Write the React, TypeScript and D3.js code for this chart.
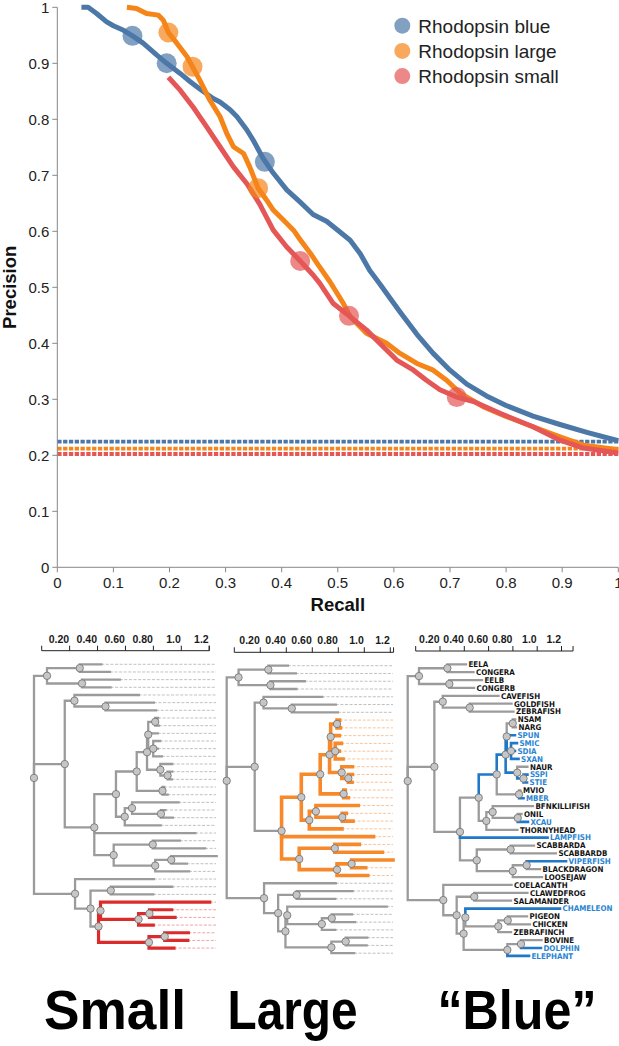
import React from 'react';
import * as d3 from 'd3';

// ---------- Precision / recall data ----------
const SERIES = ['Rhodopsin blue', 'Rhodopsin large', 'Rhodopsin small'];
const SERIES_COLORS = ['#4c78a8', '#f58518', '#e45756'];

const CURVE_BLUE: [number, number][] = [
  [0.043, 1.0], [0.055, 1.0], [0.07, 0.989], [0.088, 0.974], [0.1, 0.967], [0.118, 0.959],
  [0.134, 0.949], [0.153, 0.936], [0.177, 0.915], [0.195, 0.9], [0.219, 0.882], [0.237, 0.867],
  [0.254, 0.854], [0.278, 0.837], [0.29, 0.831], [0.308, 0.817], [0.32, 0.805], [0.338, 0.781],
  [0.349, 0.763], [0.367, 0.73], [0.385, 0.704], [0.409, 0.674], [0.433, 0.652], [0.456, 0.63],
  [0.48, 0.618], [0.5, 0.602], [0.522, 0.584], [0.54, 0.56], [0.557, 0.53], [0.575, 0.506],
  [0.59, 0.485], [0.611, 0.456], [0.641, 0.416], [0.67, 0.382], [0.7, 0.352], [0.73, 0.327],
  [0.765, 0.306], [0.8, 0.289], [0.848, 0.27], [0.896, 0.255], [0.944, 0.241], [1.0, 0.226],
];
const CURVE_LARGE: [number, number][] = [
  [0.124, 1.0], [0.141, 0.998], [0.159, 0.989], [0.18, 0.986], [0.189, 0.977], [0.198, 0.955],
  [0.213, 0.936], [0.231, 0.912], [0.241, 0.894], [0.254, 0.87], [0.272, 0.834], [0.29, 0.805],
  [0.302, 0.775], [0.314, 0.751], [0.332, 0.739], [0.343, 0.715], [0.358, 0.677], [0.373, 0.656],
  [0.385, 0.638], [0.403, 0.62], [0.421, 0.602], [0.433, 0.585], [0.451, 0.561], [0.465, 0.54],
  [0.486, 0.51], [0.51, 0.471], [0.522, 0.448], [0.551, 0.418], [0.587, 0.4], [0.611, 0.382],
  [0.641, 0.364], [0.67, 0.352], [0.694, 0.334], [0.718, 0.311], [0.759, 0.287], [0.801, 0.269],
  [0.848, 0.251], [0.896, 0.233], [0.938, 0.218], [1.0, 0.21],
];
const CURVE_SMALL: [number, number][] = [
  [0.198, 0.875], [0.219, 0.852], [0.242, 0.822], [0.266, 0.787], [0.29, 0.751], [0.314, 0.715],
  [0.338, 0.685], [0.361, 0.648], [0.385, 0.602], [0.409, 0.572], [0.433, 0.547], [0.456, 0.522],
  [0.468, 0.507], [0.492, 0.471], [0.52, 0.449], [0.551, 0.424], [0.581, 0.394], [0.605, 0.37],
  [0.635, 0.352], [0.658, 0.334], [0.682, 0.317], [0.712, 0.304], [0.742, 0.296], [0.789, 0.275],
  [0.848, 0.251], [0.896, 0.227], [0.938, 0.213], [1.0, 0.204],
];
const MARKERS_BLUE: [number, number][] = [[0.134, 0.949], [0.195, 0.9], [0.37, 0.724]];
const MARKERS_LARGE: [number, number][] = [[0.198, 0.955], [0.241, 0.894], [0.358, 0.677]];
const MARKERS_SMALL: [number, number][] = [[0.433, 0.547], [0.52, 0.449], [0.712, 0.304]];
const BASELINES = [0.2245, 0.212, 0.2023];

const PR_TICKS = [0, 0.1, 0.2, 0.3, 0.4, 0.5, 0.6, 0.7, 0.8, 0.9, 1];
const PR_TICK_LABELS = ['0', '0.1', '0.2', '0.3', '0.4', '0.5', '0.6', '0.7', '0.8', '0.9', '1'];

// ---------- Tree data (number after ':' = distance from root) ----------
const TREE = `(
 ((EELA:0.444,CONGERA:0.501)n_ec1:0.302,(EELB:0.566,CONGERB:0.505)n_ec2:0.317)n_eel:0.086,
 (
  (CAVEFISH:0.692,(GOLDFISH:0.791,ZEBRAFISH:0.806)n_gz:0.472)n_cave:0.267,
  (
   (
    (
     (
      ((NSAM:0.819,NARG:0.825)n_nn:0.80,SPUN:0.817,(SMIC:0.832,SDIA:0.817,SXAN:0.844)n_smic:0.787)n99:0.754,
      (NAUR:0.912,(SSPI:0.912,STIE:0.909)n_ss:0.882)n_naur:0.834
     )n98:0.746,
     (MVIO:0.859,MBER:0.882)n_mm:0.848
    )n89:0.678,
    ((BFNKILLIFISH:0.954,(ONIL:0.867,XCAU:0.916)n_ox:0.838)n_bf:0.647,THORNYHEAD:0.836)n79:0.599
   )n_big:0.541,
   LAMPFISH:1.065,
   (
    (SCABBARDA:0.962,SCABBARDB:1.129)n_sab:0.784,
    ((VIPERFISH:1.206,BLACKDRAGON:1.008)n_vb:0.906,LOOSEJAW:1.023)n_vbl:0.80
   )n_scab:0.526
  )n_lamp:0.398
 )n_fish:0.203,
 (
  COELACANTH:0.791,
  (
   (CLAWEDFROG:0.912,SALAMANDER:0.787)n_amph:0.507,
   (
    (CHAMELEON:1.16,((PIGEON:0.909,CHICKEN:0.931)n_pc:0.762,ZEBRAFINCH:0.787)n_birds:0.69)n_cb:0.439,
    ((BOVINE:1.019,DOLPHIN:1.015)n_bd:0.863,ELEPHANT:0.924)n_mam:0.759
   )n_t3:0.426
  )n_t1:0.373
 )n_tet:0.271
)root:0`;

const BLUE_EDGE_NODES = ['n89', 'n98', 'n99', 'n_naur', 'SPUN', 'n_smic', 'SMIC', 'SDIA', 'SXAN', 'n_ss', 'SSPI', 'STIE',
  'MBER', 'XCAU', 'LAMPFISH', 'VIPERFISH', 'CHAMELEON', 'DOLPHIN', 'ELEPHANT'];
const BLUE_LABELS = ['SPUN', 'SMIC', 'SDIA', 'SXAN', 'SSPI', 'STIE', 'MBER', 'XCAU', 'LAMPFISH', 'VIPERFISH',
  'CHAMELEON', 'DOLPHIN', 'ELEPHANT'];
const TREE_AXIS_TICKS = [0.2, 0.4, 0.6, 0.8, 1.0, 1.2];
const TREE_AXIS_LABELS = ['0.20', '0.40', '0.60', '0.80', '1.0', '1.2'];
const PANEL_TITLES = ['Small', 'Large', '\u201CBlue\u201D'];

type TNode = { name: string; dist: number; children?: TNode[] };

function parseTree(src: string): TNode {
  const s = src.replace(/\s+/g, '');
  let i = 0;
  const readUntil = (stops: string) => {
    let out = '';
    while (i < s.length && !stops.includes(s[i])) out += s[i++];
    return out;
  };
  const node = (): TNode => {
    let children: TNode[] | undefined;
    if (s[i] === '(') {
      i++;
      children = [node()];
      while (s[i] === ',') { i++; children.push(node()); }
      i++; // ')'
    }
    const name = readUntil(':,)');
    let dist = 0;
    if (s[i] === ':') { i++; dist = parseFloat(readUntil(',)')); }
    return { name, dist, children };
  };
  return node();
}

const FONT = "'Liberation Sans', Arial, Helvetica, sans-serif";
const GREY = '#9b9b9b';

type Panel = {
  rootX: number; ppu: number; y0: number; dy: number; leaderEnd: number;
  axisX0: number; axisPpu: number; axisMax: number; axisY: number;
  highlight?: string; hlColor?: string; hlLeader?: string; hlWidth?: number;
  labels?: boolean; titleX: number; titleW: number;
};

const PANELS: Panel[] = [
  { rootX: 34, ppu: 151.5, y0: 664.3, dy: 7.67, leaderEnd: 216, axisX0: 41.7, axisPpu: 139.6, axisMax: 1.2, axisY: 650.7,
    highlight: 'n_t3', hlColor: '#dc2b2b', hlLeader: '#f2a3a3', hlWidth: 3.2, titleX: 115, titleW: 142 },
  { rootX: 226.7, ppu: 137.9, y0: 665.7, dy: 7.77, leaderEnd: 393, axisX0: 234.3, axisPpu: 130, axisMax: 1.225, axisY: 652.3,
    highlight: 'n_lamp', hlColor: '#f7892b', hlLeader: '#f9c49a', hlWidth: 3.6, titleX: 292.5, titleW: 130 },
  { rootX: 407.7, ppu: 131.3, y0: 664.3, dy: 7.88, leaderEnd: 0, axisX0: 415.7, axisPpu: 121.5, axisMax: 1.295, axisY: 651,
    labels: true, titleX: 517, titleW: 159 },
];

function TreePanel({ p, k }: { p: Panel; k: number }) {
  const root = d3.hierarchy<TNode>(parseTree(TREE), (d) => d.children);
  const leaves = root.leaves();
  const yi = new Map<any, number>();
  leaves.forEach((l, i) => yi.set(l, i));
  root.eachAfter((n) => {
    if (n.children) yi.set(n, d3.mean(n.children, (c) => yi.get(c)!)!);
  });
  const xs = d3.scaleLinear().domain([0, 1]).range([p.rootX, p.rootX + p.ppu]);
  const ys = d3.scaleLinear().domain([0, 1]).range([p.y0, p.y0 + p.dy]);
  const X = (n: any) => xs(n.data.dist);
  const Y = (n: any) => ys(yi.get(n)!);

  const hl = new Set<any>();
  if (p.highlight) {
    const h = root.descendants().find((n) => n.data.name === p.highlight);
    if (h) h.descendants().forEach((n) => { if (n !== h) hl.add(n); });
  }
  const blueSet = new Set(BLUE_EDGE_NODES);
  const blueLab = new Set(BLUE_LABELS);
  const isColored = (n: any) => (p.labels ? blueSet.has(n.data.name) : hl.has(n));
  const colColor = p.labels ? '#1f78c8' : p.hlColor!;
  const colWidth = p.labels ? 2.6 : p.hlWidth!;

  const nonRoot = root.descendants().filter((n) => n.parent);
  const edges = [...nonRoot.filter((n) => !isColored(n)), ...nonRoot.filter((n) => isColored(n))];

  const ax = d3.scaleLinear().domain([0, p.axisMax]).range([p.axisX0, p.axisX0 + p.axisMax * p.axisPpu]);

  return (
    <g>
      {/* axis */}
      <line x1={ax(0)} x2={ax(p.axisMax)} y1={p.axisY} y2={p.axisY} stroke="#222" strokeWidth={1} />
      {[0, ...TREE_AXIS_TICKS, p.axisMax].map((t, i) => (
        <line key={'t' + i} x1={ax(t)} x2={ax(t)} y1={p.axisY} y2={p.axisY - 5} stroke="#222" strokeWidth={1} />
      ))}
      {TREE_AXIS_TICKS.map((t, i) => (
        <text key={'l' + i} x={ax(t) - 0.5} y={p.axisY - 8} textAnchor="end" fontFamily={FONT} fontSize={10.5}
          fontWeight="bold" fill="#1a1a1a">{TREE_AXIS_LABELS[i]}</text>
      ))}
      {/* leaders */}
      {!p.labels && leaves.map((l, i) => (
        X(l) < p.leaderEnd ? (
          <line key={'d' + i} x1={X(l)} x2={p.leaderEnd} y1={Y(l)} y2={Y(l)}
            stroke={hl.has(l) ? p.hlLeader : '#b0b0b0'} strokeWidth={hl.has(l) ? 1 : 0.8} strokeDasharray="3,1.6" />
        ) : null
      ))}
      {/* edges */}
      {edges.map((n, i) => (
        <path key={'e' + i} d={`M${X(n.parent)},${Y(n.parent)}V${Y(n)}H${X(n)}`} fill="none"
          stroke={isColored(n) ? colColor : GREY} strokeWidth={isColored(n) ? colWidth : 2.3}
          strokeLinejoin="miter" strokeLinecap="square" />
      ))}
      {/* internal nodes */}
      {root.descendants().filter((n) => n.children).map((n, i) => (
        <circle key={'c' + i} cx={X(n)} cy={Y(n)} r={3.7} fill="#c6c6c6" stroke="#6f6f6f" strokeWidth={0.8} />
      ))}
      {/* labels */}
      {p.labels && leaves.map((l, i) => (
        <text key={'n' + i} x={X(l) + 2.5} y={Y(l) + 2.8} fontFamily="'Liberation Sans Narrow', 'DejaVu Sans Condensed', 'Liberation Sans', sans-serif"
          fontSize={7.9} fontWeight="bold" fill={blueLab.has(l.data.name) ? '#2a84d2' : '#111'}>{l.data.name}</text>
      ))}
      <text x={p.titleX} y={1029} textAnchor="middle" fontFamily={FONT} fontWeight="bold" fontSize={55}
        textLength={p.titleW} lengthAdjust="spacingAndGlyphs" fill="#000">{PANEL_TITLES[k]}</text>
    </g>
  );
}

export default function App() {
  const L = 57.3, R = 618.3, T = 7.3, B = 567.3;
  const x = d3.scaleLinear().domain([0, 1]).range([L, R]);
  const y = d3.scaleLinear().domain([0, 1]).range([B, T]);
  const line = d3.line<[number, number]>().x((d) => x(d[0])).y((d) => y(d[1]));
  const curves = [CURVE_BLUE, CURVE_LARGE, CURVE_SMALL];
  const markers = [MARKERS_BLUE, MARKERS_LARGE, MARKERS_SMALL];

  return (
    <svg width={619} height={1046} style={{ position: 'fixed', left: 0, top: 0, background: '#fff' }}
      xmlns="http://www.w3.org/2000/svg">
      <rect x={0} y={0} width={619} height={1046} fill="#fff" />
      {/* baselines */}
      {BASELINES.map((b, i) => (
        <line key={'b' + i} x1={L} x2={R} y1={y(b)} y2={y(b)} stroke={SERIES_COLORS[i]} strokeWidth={3.8}
          strokeDasharray="4.3,1.5" />
      ))}
      {/* axes */}
      <line x1={L} x2={L} y1={T} y2={B} stroke="#888" strokeWidth={1} />
      <line x1={L} x2={R} y1={B} y2={B} stroke="#888" strokeWidth={1} />
      {PR_TICKS.map((t, i) => (
        <g key={'yt' + i}>
          <line x1={L - 5} x2={L} y1={y(t)} y2={y(t)} stroke="#888" strokeWidth={1} />
          <text x={L - 8} y={y(t) + 5.2} textAnchor="end" fontFamily={FONT} fontSize={15} fill="#222">{PR_TICK_LABELS[i]}</text>
          <line x1={x(t)} x2={x(t)} y1={B} y2={B + 5} stroke="#888" strokeWidth={1} />
          <text x={x(t)} y={B + 21} textAnchor="middle" fontFamily={FONT} fontSize={15} fill="#222">{PR_TICK_LABELS[i]}</text>
        </g>
      ))}
      <text x={(L + R) / 2} y={611} textAnchor="middle" fontFamily={FONT} fontWeight="bold" fontSize={18.5} fill="#111">Recall</text>
      <text transform={`translate(16,${(T + B) / 2}) rotate(-90)`} textAnchor="middle" fontFamily={FONT}
        fontWeight="bold" fontSize={18.5} fill="#111">Precision</text>
      {/* curves */}
      {curves.map((c, i) => (
        <path key={'c' + i} d={line(c)!} fill="none" stroke={SERIES_COLORS[i]} strokeWidth={5}
          strokeLinejoin="round" strokeLinecap="butt" />
      ))}
      {markers.map((m, i) => m.map((d, j) => (
        <circle key={`m${i}-${j}`} cx={x(d[0])} cy={y(d[1])} r={10} fill={SERIES_COLORS[i]} fillOpacity={0.7} />
      )))}
      {/* legend */}
      {SERIES.map((s, i) => (
        <g key={'lg' + i} transform={`translate(402.3,${25.7 + i * 25.2})`}>
          <circle r={8} fill={SERIES_COLORS[i]} fillOpacity={0.7} />
          <text x={16} y={6.8} fontFamily={FONT} fontSize={19} fill="#222">{s}</text>
        </g>
      ))}
      {/* trees */}
      {PANELS.map((p, k) => <TreePanel key={k} p={p} k={k} />)}
    </svg>
  );
}
